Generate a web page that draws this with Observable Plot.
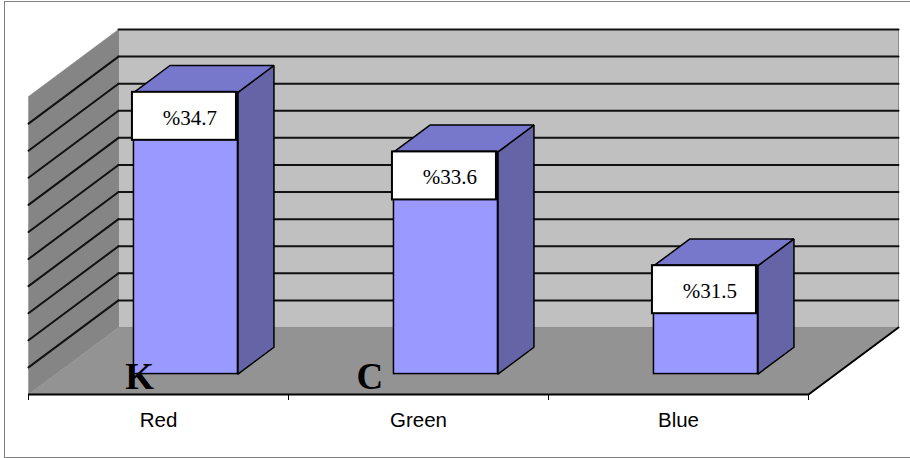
<!DOCTYPE html>
<html>
<head>
<meta charset="utf-8">
<script src="https://cdn.jsdelivr.net/npm/d3@7"></script>
<script src="https://cdn.jsdelivr.net/npm/@observablehq/plot@0.6"></script>
<style>
  html, body { margin: 0; padding: 0; background: #fff; overflow: hidden; }
  #chart { position: relative; width: 910px; height: 458px; overflow: hidden; }
  #chart svg { display: block; }
  /* chart-area border: top, left and bottom edges only */
  #chart::after {
    content: ""; position: absolute; left: 4px; top: 1px;
    width: 920px; height: 455px;
    border: 1px solid #7f7f7f; border-right: none; pointer-events: none;
  }
</style>
</head>
<body>
<div id="chart"></div>
<script>
// Shares per colour channel
const categories = ["Red", "Green", "Blue"];
const shares = [34.7, 33.6, 31.5];
const cornerLetters = ["K", "C"];

const W = 910, H = 458;
const margin = {top: 96, right: 102, bottom: 64, left: 28};
const xDomain = [0, categories.length];
const yDomain = [29.5, 35];
const gridStep = 0.5;
const base = yDomain[0];

// Oblique projection: going from the front to the back of the floor
// moves a point this many pixels right / up.
const depthPx = {x: 90, y: 67};
const bandPx = (W - margin.left - margin.right) / (xDomain[1] - xDomain[0]);
const unitPx = (H - margin.top - margin.bottom) / (yDomain[1] - yDomain[0]);
const kx = depthPx.x / bandPx;
const ky = depthPx.y / unitPx;
// (category position, value, depth 0..1) -> data coordinates on the page plane
const P = (x, v, z) => ({x: x + z * kx, y: v + z * ky});

// closed polygon for Plot.line
const poly = (id, pts) => pts.concat([pts[0]]).map(p => ({...p, id}));

const xMax = xDomain[1], yMax = yDomain[1];
const backWall = poly("back", [P(0, base, 1), P(xMax, base, 1), P(xMax, yMax, 1), P(0, yMax, 1)]);
const sideWall = poly("side", [P(0, base, 0), P(0, yMax, 0), P(0, yMax, 1), P(0, base, 1)]);
const floor = poly("floor", [P(0, base, 0), P(xMax, base, 0), P(xMax, base, 1), P(0, base, 1)]);

const gridValues = d3.range(base + gridStep, yMax + gridStep / 2, gridStep);
const backGrid = gridValues.flatMap(v => [{...P(0, v, 1), id: v}, {...P(xMax, v, 1), id: v}]);
const sideGrid = gridValues.filter(v => v < yMax)
  .flatMap(v => [{...P(0, v, 0), id: v}, {...P(0, v, 1), id: v}]);

// bar geometry (in category units / depth fractions)
const barFront = 0.305, barBack = 0.705, barHalf = 0.2;
const bars = categories.map((c, i) => ({
  category: c, value: shares[i],
  x1: i + 0.5 - barHalf, x2: i + 0.5 + barHalf
}));
const sideFaces = bars.flatMap(b => poly(b.category, [
  P(b.x2, base, barFront), P(b.x2, b.value, barFront),
  P(b.x2, b.value, barBack), P(b.x2, base, barBack)
]));
const topFaces = bars.flatMap(b => poly(b.category, [
  P(b.x1, b.value, barFront), P(b.x2, b.value, barFront),
  P(b.x2, b.value, barBack), P(b.x1, b.value, barBack)
]));

const labelBoxPx = 48;
const serif = "'Liberation Serif', 'Times New Roman', serif";
const sans = "'Liberation Sans', Arial, sans-serif";

const chart = Plot.plot({
  width: W, height: H,
  marginTop: margin.top, marginRight: margin.right,
  marginBottom: margin.bottom, marginLeft: margin.left,
  x: {type: "linear", domain: xDomain, axis: null},
  y: {type: "linear", domain: yDomain, axis: null},
  style: {background: "#fff"},
  marks: [
    // walls and floor
    Plot.line(backWall, {x: "x", y: "y", z: "id", fill: "#c0c0c0", stroke: "#8a8a8a", strokeWidth: 1}),
    Plot.line(sideWall, {x: "x", y: "y", z: "id", fill: "#858585", stroke: "#858585", strokeWidth: 0.5}),
    Plot.line(floor, {x: "x", y: "y", z: "id", fill: "#939393", stroke: "#939393", strokeWidth: 0.5}),
    // gridlines
    Plot.line(backGrid, {x: "x", y: "y", z: "id", stroke: "#111", strokeWidth: 2}),
    Plot.line(sideGrid, {x: "x", y: "y", z: "id", stroke: "#111", strokeWidth: 2}),
    // floor right edge
    Plot.line([P(xMax, base, 0), P(xMax, base, 1)], {x: "x", y: "y", stroke: "#000", strokeWidth: 2}),
    // bars: side, top, front
    Plot.line(sideFaces, {x: "x", y: "y", z: "id", fill: "#6464a6", stroke: "#000", strokeWidth: 1.5, strokeLinejoin: "miter"}),
    Plot.line(topFaces, {x: "x", y: "y", z: "id", fill: "#7777cc", stroke: "#000", strokeWidth: 1.5, strokeLinejoin: "miter"}),
    Plot.rect(bars, {
      x1: b => P(b.x1, base, barFront).x, x2: b => P(b.x2, base, barFront).x,
      y1: b => P(b.x1, base, barFront).y, y2: b => P(b.x1, b.value, barFront).y,
      fill: "#9999ff", stroke: "#000", strokeWidth: 1.5
    }),
    // value labels
    Plot.rect(bars, {
      x1: b => P(b.x1, b.value, barFront).x, x2: b => P(b.x2, b.value, barFront).x,
      y1: b => P(b.x1, b.value, barFront).y,
      y2: b => P(b.x1, b.value, barFront).y - labelBoxPx / unitPx,
      dx: -1.5, fill: "#fff", stroke: "#000", strokeWidth: 2
    }),
    Plot.text(bars, {
      x: b => P(b.x1 + barHalf, b.value, barFront).x,
      y: b => P(b.x1, b.value, barFront).y,
      text: b => "%" + b.value,
      lineAnchor: "bottom", dx: 4, dy: 32.5,
      fontFamily: serif, fontSize: 21, fill: "#000"
    }),
    // corner letters
    Plot.text(cornerLetters, {
      x: [0.427, 1.313], y: () => base, text: d => d,
      lineAnchor: "bottom", dy: -6,
      fontFamily: serif, fontWeight: "bold", fontSize: 37, fill: "#000"
    }),
    // category axis
    Plot.ruleY([base], {x1: 0, x2: xMax, stroke: "#000", strokeWidth: 2}),
    Plot.axisX({ticks: d3.range(0, categories.length + 1), tickSize: 6, tickFormat: () => "", label: null, stroke: "#000"}),
    Plot.text(categories, {
      x: (d, i) => i + 0.5, y: () => base, text: d => d,
      lineAnchor: "bottom", dy: 32,
      fontFamily: sans, fontSize: 20.5, fill: "#000"
    })
  ]
});

document.getElementById("chart").appendChild(chart);
</script>
</body>
</html>
